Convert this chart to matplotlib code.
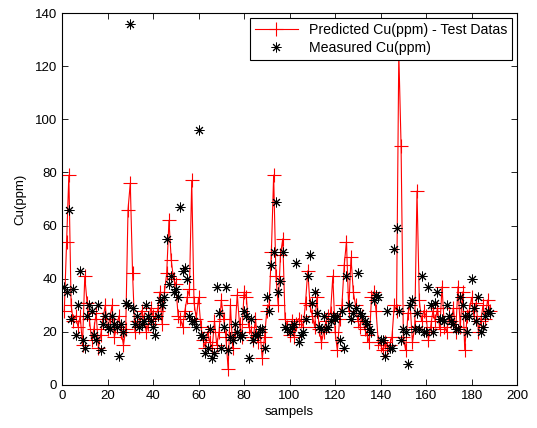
import matplotlib
matplotlib.use("Agg")
import matplotlib.pyplot as plt
import numpy as np

measured = [37, 35, 66, 25, 36, 19, 30, 43, 17, 14,
            26, 30, 28, 19, 17, 30, 13, 23, 26, 22,
            21, 26, 23, 22, 11, 23, 20, 31, 30, 136,
            29, 23, 26, 22, 23, 24, 30, 26, 24, 22,
            19, 26, 32, 30, 33, 55, 38, 41, 35, 36,
            33, 67, 43, 44, 40, 26, 24, 24, 22, 96,
            19, 18, 12, 14, 21, 10, 12, 37, 27, 14,
            22, 37, 13, 18, 17, 23, 20, 18, 19, 28,
            26, 10, 25, 17, 19, 19, 21, 21, 14, 33,
            28, 45, 50, 69, 35, 39, 50, 22, 21, 20,
            22, 23, 46, 16, 19, 20, 25, 41, 49, 31,
            35, 27, 22, 21, 26, 21, 22, 24, 26, 25,
            26, 17, 28, 14, 41, 30, 25, 27, 29, 42,
            27, 26, 24, 23, 21, 20, 32, 34, 33, 17,
            17, 11, 28, 14, 14, 51, 59, 28, 17, 21,
            20, 8, 30, 32, 21, 27, 21, 41, 20, 20,
            37, 30, 20, 31, 35, 25, 25, 24, 30, 26,
            24, 23, 21, 21, 33, 30, 26, 20, 26, 40,
            29, 24, 33, 20, 22, 26, 28, 27]

predicted = [28, 54, 79, 30, 24, 26, 22, 26, 15, 41,
             31, 25, 17, 21, 27, 14, 19, 25, 30, 21,
             25, 30, 18, 22, 26, 20, 15, 21, 66, 76,
             42, 20, 24, 22, 28, 25, 20, 23, 29, 26,
             25, 28, 35, 23, 35, 42, 62, 47, 40, 38,
             26, 25, 22, 28, 33, 36, 77, 31, 25, 33,
             22, 17, 14, 20, 16, 14, 24, 15, 20, 32,
             25, 18, 6, 30, 14, 20, 34, 23, 18, 35,
             33, 22, 20, 17, 25, 16, 20, 10, 18, 28,
             30, 50, 79, 41, 30, 49, 55, 25, 22, 19,
             24, 18, 23, 25, 24, 22, 31, 43, 30, 26,
             22, 33, 21, 16, 20, 24, 26, 27, 41, 20,
             13, 25, 30, 45, 54, 28, 48, 35, 30, 24,
             22, 26, 21, 19, 16, 33, 35, 28, 16, 15,
             13, 16, 14, 15, 18, 30, 28, 125, 90, 18,
             13, 27, 30, 16, 22, 73, 32, 24, 28, 26,
             17, 22, 28, 24, 29, 21, 37, 22, 20, 26,
             24, 29, 20, 37, 22, 35, 13, 26, 28, 33,
             26, 31, 20, 24, 30, 25, 32, 28]

samples = np.arange(1, len(measured) + 1)

plt.rcParams['font.family'] = ['Liberation Sans', 'DejaVu Sans']
fig = plt.figure(figsize=(5.37, 4.28), dpi=100)
ax = fig.add_axes([0.1155, 0.1005, 0.8475, 0.869])

ax.plot(samples, predicted, color='red', linewidth=0.8, marker='+',
        markersize=10, markeredgewidth=0.8, label='Predicted Cu(ppm) - Test Datas')
ax.plot(samples, measured, linestyle='none', color='black', marker=(8, 2, 0),
        markersize=7, markeredgewidth=0.7, label='Measured Cu(ppm)')

ax.set_xlim(0, 200)
ax.set_ylim(0, 140)
ax.set_xticks(np.arange(0, 201, 20))
ax.set_yticks(np.arange(0, 141, 20))
ax.tick_params(direction='in', top=True, right=True, labelsize=9.5, length=4, width=0.6)
for s in ax.spines.values():
    s.set_linewidth(0.8)
ax.set_xlabel('sampels', fontsize=9.5, labelpad=3)
ax.set_ylabel('Cu(ppm)', fontsize=9.5, labelpad=6)

leg = ax.legend(loc='upper right', fontsize=10.2, fancybox=False, framealpha=1,
                edgecolor='black', borderaxespad=0.35, handlelength=3.0,
                borderpad=0.35, labelspacing=0.3)
leg.get_frame().set_linewidth(0.8)

fig.savefig('out.png', dpi=100)
